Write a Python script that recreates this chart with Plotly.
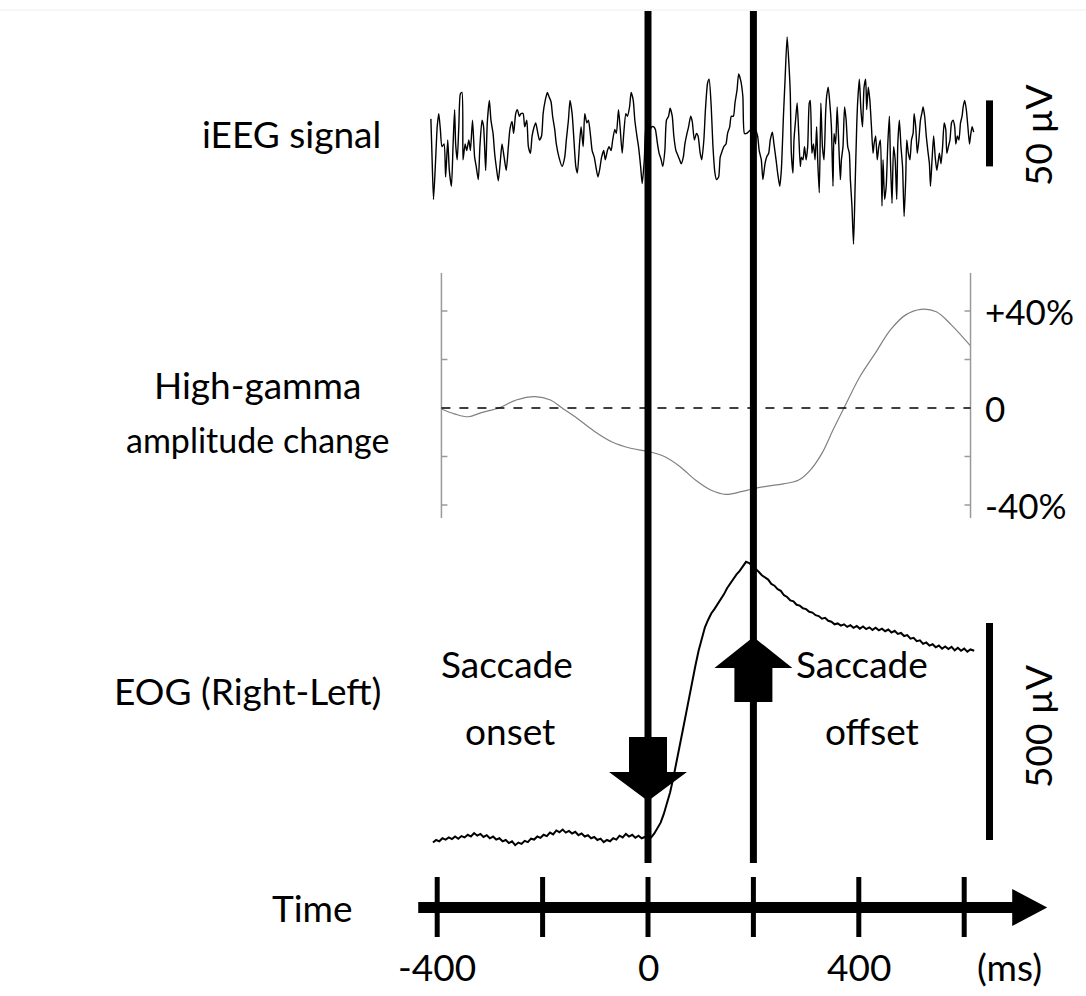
import plotly.graph_objects as go

# ---------------- data ----------------
# iEEG signal, time in ms, amplitude in microvolts
ieeg_t = [
    -412, -410, -407, -403, -400, -397, -394, -391, -387, -384,
    -380, -377, -373, -370, -367, -365, -362, -359, -356, -353,
    -351, -347, -344, -340, -337, -333, -329, -326, -322, -319,
    -315, -312, -308, -305, -301, -298, -294, -291, -287, -284,
    -280, -277, -273, -269, -265, -262, -258, -255, -251, -248,
    -244, -241, -237, -234, -230, -227, -223, -220, -216, -213,
    -209, -206, -202, -199, -195, -191, -188, -184, -181, -177,
    -174, -169, -163, -158, -155, -151, -148, -144, -141, -137,
    -134, -130, -127, -123, -120, -116, -113, -109, -106, -102,
    -99, -95, -92, -88, -84, -81, -77, -74, -70, -67,
    -63, -60, -56, -53, -49, -46, -42, -39, -35, -32,
    -28, -25, -21, -18, -14, -11, -7, -4, 0, 4,
    7, 11, 14, 18, 21, 25, 28, 32, 35, 39,
    42, 46, 49, 53, 56, 60, 63, 67, 70, 74,
    77, 81, 84, 88, 92, 95, 99, 102, 106, 109,
    113, 116, 120, 123, 127, 130, 134, 137, 141, 144,
    148, 151, 155, 158, 162, 165, 169, 172, 176, 180,
    183, 187, 201, 204, 208, 211, 215, 218, 222, 225,
    229, 232, 236, 239, 243, 246, 250, 253, 257, 260,
    264, 268, 270, 272, 275, 277, 280, 283, 286, 289,
    291, 294, 297, 300, 303, 306, 308, 311, 314, 317,
    320, 322, 325, 328, 331, 334, 337, 339, 342, 345,
    348, 351, 353, 356, 359, 362, 365, 367, 370, 373,
    376, 379, 382, 384, 387, 390, 393, 396, 398, 401,
    404, 407, 410, 413, 415, 418, 421, 424, 427, 429,
    432, 435, 438, 441, 444, 446, 449, 452, 455, 458,
    460, 463, 466, 469, 472, 474, 477, 480, 483, 486,
    489, 491, 494, 497, 500, 503, 505, 508, 511, 514,
    517, 520, 522, 525, 528, 531, 534, 536, 539, 542,
    545, 548, 551, 553, 556, 559, 562, 565, 567, 570,
    573, 576, 579, 582, 584, 587, 590, 593, 596, 598,
    601, 604, 607, 610, 612, 615, 618,
]
ieeg_uv = [
    16, -10, -45, -15, 10, 20, 8, -5, -3, -28,
    0, -23, -35, -5, 23, -3, -15, 10, 35, 36,
    -15, -3, -8, 0, -8, 15, -13, -20, -30, -5,
    15, 10, -23, 13, 30, 15, 5, -10, -23, -31,
    -15, -3, -13, -23, -5, 8, 14, 5, 20, 23,
    18, 20, 20, 10, 15, -5, -10, 3, 10, 13,
    5, 0, 3, 20, 30, 36, 33, 29, 18, 8,
    -3, -13, -20, -13, 0, 15, 30, 20, 3, -20,
    -25, -3, 10, -5, 20, 13, 15, 3, -8, -13,
    -20, -28, -23, -13, -8, -15, -8, -5, -8, 0,
    8, 5, 23, 10, -10, 5, 20, 18, 25, 36,
    30, 15, 3, -5, -20, -33, -15, 10, 5, 8,
    10, 10, 8, -3, -10, -15, -20, -8, 15, 18,
    24, 18, 3, -8, -11, -15, -18, -13, -3, 5,
    10, 18, 14, 0, 5, 3, -10, -15, 0, 23,
    43, 46, 25, -3, -25, -30, -28, -13, -8, -5,
    -3, 5, 10, 18, 18, 28, 38, 50, 45, 33,
    5, 5, 10, 8, 3, -8, -15, -30, -18, -13,
    -10, 0, 6, -3, -15, -25, -35, -23, 18, 45,
    78, 53, 35, -10, -25, 0, 15, 28, 5, -20,
    -13, -15, -5, -15, -5, 28, 30, -10, -3, -15,
    10, -15, -40, 28, -5, -15, 20, 33, 40, 28,
    10, -35, 5, -3, 25, -3, -30, -15, -5, 25,
    15, -5, -10, -30, -50, -79, -35, 10, 30, 46,
    23, 10, 40, 46, 23, 40, 30, 10, -10, -3,
    3, -15, -5, 0, -50, -15, -45, -35, -3, 18,
    -15, -48, -5, -15, -45, -3, 15, -5, -20, -58,
    -30, 0, -10, -15, 0, 5, 20, 10, -10, 0,
    15, 21, 25, 18, 3, -8, -18, -35, -15, 3,
    -13, -23, -15, -10, -18, -5, 13, 8, -10, -5,
    0, 13, 15, 10, -3, 3, 0, 13, 18, 25,
    30, 23, 10, -3, 3, 10, 6,
]

# High-gamma amplitude change, time in ms, change in percent
hg_t = [
    -392, -366, -341, -316, -283, -250, -214, -185, -163, -134,
    -105, -69, -33, 2, 32, 61, 90, 119, 148, 177,
    196, 221, 257, 286, 308, 330, 351, 373, 402, 431,
    460, 489, 518, 547, 576, 612,
]
hg_pct = [
    -0.4, -2.5, -3.6, -1.9, 0.0, 3.3, 4.7, 3.3, 0.0, -4.3,
    -9.1, -13.9, -16.6, -18.0, -20.1, -24.2, -29.7, -33.8, -35.6, -34.5,
    -33.5, -32.4, -31.3, -29.7, -25.6, -18.7, -9.1, 0.5, 12.9, 22.5,
    32.2, 38.4, 40.7, 39.7, 34.2, 25.6,
]

# EOG (right - left), time in ms, microvolts relative to pre-saccade baseline
eog_t = [
    -408, -402, -396, -390, -384, -378, -372, -366, -360, -354,
    -348, -342, -336, -330, -324, -318, -312, -306, -300, -294,
    -288, -282, -276, -270, -264, -258, -252, -246, -240, -234,
    -228, -222, -216, -210, -204, -198, -192, -186, -180, -174,
    -168, -162, -156, -150, -144, -138, -132, -126, -120, -114,
    -108, -102, -96, -90, -84, -78, -72, -66, -60, -54,
    -48, -42, -36, -30, -24, -18, -12, -6, 0,
    6, 12, 18, 24, 30, 36, 42, 48, 54, 60,
    66, 72, 78, 84, 90, 96, 102, 108, 114, 120,
    126, 132, 138, 144, 150, 156, 162, 168, 174, 180, 186,
    192, 198, 204, 210, 216, 222, 228, 234, 240, 246,
    252, 258, 264, 270, 276, 282, 288, 294, 300, 306,
    312, 318, 324, 330, 336, 342, 348, 354, 360, 366,
    372, 378, 384, 390, 396, 402, 408, 414, 420, 426,
    432, 438, 444, 450, 456, 462, 468, 474, 480, 486,
    492, 498, 504, 510, 516, 522, 528, 534, 540, 546,
    552, 558, 564, 570, 576, 582, 588, 594, 600, 606,
    612, 619,
]
eog_uv = [
    -6, 0, -3, 4, 1, 6, 2, 8, 3, 9,
    6, 12, 8, 16, 10, 14, 7, 11, 4, 8,
    1, 4, -3, 0, -7, -3, -12, -6, -9, -2,
    -5, 3, 1, 8, 5, 12, 9, 17, 13, 22,
    18, 24, 17, 21, 15, 19, 11, 15, 8, 11,
    4, 7, 0, 3, -5, 0, -3, 4, 1, 10,
    6, 14, 8, 12, 5, 10, 4, 7, 2,
    6, 15, 26, 40, 60, 84, 110, 143, 177, 216,
    253, 290, 329, 364, 402, 436, 466, 490, 507, 522,
    532, 543, 556, 566, 580, 591, 600, 612, 620, 630, 641,
    638, 632, 624, 618, 610, 604, 600, 590, 586, 578,
    574, 564, 560, 552, 550, 542, 540, 534, 532, 526,
    524, 518, 516, 510, 512, 505, 503, 497, 499, 494,
    497, 491, 495, 489, 493, 487, 492, 486, 490, 484,
    489, 483, 487, 481, 485, 478, 482, 475, 477, 470,
    472, 464, 466, 458, 460, 452, 455, 448, 451, 444,
    448, 441, 446, 440, 445, 437, 443, 436, 441, 434,
    439, 436,
]

time_ticks = [-400, -200, 0, 200, 400, 600]
time_tick_labels = ["-400", "", "0", "", "400", ""]
saccade_onset_ms = 0
saccade_offset_ms = 200
hg_minor_ticks = [-40, -20, 20, 40]
hg_labels = [40, 0, -40]
hg_label_text = ["+40%", "0", "-40%"]
ieeg_scale_uv = 50
eog_scale_uv = 500

# ---------------- layout helpers ----------------
W, H = 1086, 996
FONT = "Lato"
FS = 37
PX_PER_MS = 0.527
ZERO_PX = 648.0


def py(p):
    return 1 - p / H


def px(p):
    return p / W


def yrange(zero_px, px_per_unit):
    top = zero_px / px_per_unit
    return [top - H / px_per_unit, top]


fig = go.Figure()
fig.add_trace(go.Scatter(x=ieeg_t, y=ieeg_uv, mode="lines", yaxis="y",
                         line=dict(color="black", width=1.4, shape="spline",
                                   smoothing=0.6),
                         hoverinfo="skip"))
fig.add_trace(go.Scatter(x=hg_t, y=hg_pct, mode="lines", yaxis="y2",
                         line=dict(color="#808080", width=1.2, shape="spline"),
                         hoverinfo="skip"))
fig.add_trace(go.Scatter(x=eog_t, y=eog_uv, mode="lines", yaxis="y3",
                         line=dict(color="black", width=2), hoverinfo="skip"))

shapes = []
# faint page border at top
shapes.append(dict(type="line", xref="paper", yref="paper", x0=0, x1=1,
                   y0=py(10), y1=py(10), line=dict(color="#eeeeee", width=1)))

# high-gamma axes (left & right), zero line and inner ticks
hg_lo, hg_hi = -45.4, 55.7
for xa, sign in ((hg_t[0], 1), (hg_t[-1], -1)):
    shapes.append(dict(type="line", xref="x", yref="y2", x0=xa, x1=xa,
                       y0=hg_lo, y1=hg_hi, line=dict(color="#9a9a9a", width=1.5)))
    for v in hg_minor_ticks:
        shapes.append(dict(type="line", xref="x", yref="y2", xsizemode="pixel",
                           xanchor=xa, x0=0, x1=6 * sign, y0=v, y1=v,
                           line=dict(color="#9a9a9a", width=1.5)))
shapes.append(dict(type="line", xref="x", yref="y2", x0=hg_t[0], x1=hg_t[-1],
                   y0=0, y1=0, line=dict(color="black", width=1.5, dash="dash")))

# scale bars
shapes.append(dict(type="line", xref="paper", yref="y", x0=px(989.5), x1=px(989.5),
                   y0=-20, y1=-20 + ieeg_scale_uv, line=dict(color="black", width=7)))
shapes.append(dict(type="line", xref="paper", yref="y3", x0=px(989.5), x1=px(989.5),
                   y0=0, y1=eog_scale_uv, line=dict(color="black", width=7)))

# event lines
for ev in (saccade_onset_ms, saccade_offset_ms):
    shapes.append(dict(type="line", xref="x", yref="paper", x0=ev, x1=ev,
                       y0=py(863), y1=py(11), line=dict(color="black", width=7)))

# block arrows (pixel-sized, anchored at the events)
down = (f"M -19,{py(737)} L 19,{py(737)} L 19,{py(772)} L 39,{py(772)} "
        f"L 0,{py(801)} L -39,{py(772)} L -19,{py(772)} Z")
up = (f"M 0,{py(637)} L 39,{py(668)} L 19,{py(668)} L 19,{py(702)} "
      f"L -19,{py(702)} L -19,{py(668)} L -39,{py(668)} Z")
for ev, path in ((saccade_onset_ms, down), (saccade_offset_ms, up)):
    shapes.append(dict(type="path", xref="x", yref="paper", xsizemode="pixel",
                       xanchor=ev, path=path, fillcolor="black",
                       line=dict(color="black", width=0)))

# time axis
t_start, t_end = -436, 693
shapes.append(dict(type="line", xref="x", yref="paper", x0=t_start, x1=t_end,
                   y0=py(907.5), y1=py(907.5), line=dict(color="black", width=11)))
shapes.append(dict(type="path", xref="x", yref="paper", xsizemode="pixel",
                   xanchor=t_end,
                   path=f"M -1,{py(889)} L 34,{py(907.5)} L -1,{py(926)} Z",
                   fillcolor="black", line=dict(color="black", width=0)))
for t in time_ticks:
    shapes.append(dict(type="line", xref="x", yref="paper", x0=t, x1=t,
                       y0=py(877), y1=py(937), line=dict(color="black", width=5)))

ann = []


def text(s, x, y, xanchor="center", xref="paper", yref="paper", angle=0, size=FS):
    ann.append(dict(text=s, x=x, y=y, xref=xref, yref=yref, xanchor=xanchor,
                    yanchor="middle", showarrow=False, textangle=angle,
                    font=dict(family=FONT, size=size, color="black")))


text("iEEG signal", px(383), py(133), xanchor="right")
text("High-gamma", px(257), py(385))
text("amplitude change", px(257), py(440), size=34)
text("EOG (Right-Left)", px(383), py(690), xanchor="right")
text("Saccade", px(507), py(663))
text("onset", px(510), py(730))
text("Saccade", px(862), py(663))
text("offset", px(872), py(730))
text("Time", px(312), py(907))
for t, lab in zip(time_ticks, time_tick_labels):
    if lab:
        text(lab, t, py(966), xref="x")
text("(ms)", px(1009), py(966))
for v, lab in zip(hg_labels, hg_label_text):
    text(lab, px(983), v, xanchor="left", yref="y2", size=35)
text("50 µV", px(1037), py(136), angle=-90)
text("500 µV", px(1037), py(727), angle=-90)

hidden = dict(visible=False, showgrid=False, zeroline=False, fixedrange=True)
fig.update_layout(
    width=W, height=H, margin=dict(l=0, r=0, t=0, b=0),
    paper_bgcolor="white", plot_bgcolor="white", showlegend=False,
    hovermode=False,
    xaxis=dict(range=[-ZERO_PX / PX_PER_MS, (W - ZERO_PX) / PX_PER_MS], **hidden),
    yaxis=dict(range=yrange(140, 1.32), **hidden),
    yaxis2=dict(range=yrange(408, 2.425), overlaying="y", anchor="x", **hidden),
    yaxis3=dict(range=yrange(840, 0.434), overlaying="y", anchor="x", **hidden),
    shapes=shapes, annotations=ann,
)
fig.write_html(
    "out.html",
    config={"displayModeBar": False, "staticPlot": True},
    post_script="document.body.style.margin='0px';document.body.style.overflow='hidden';",
)
